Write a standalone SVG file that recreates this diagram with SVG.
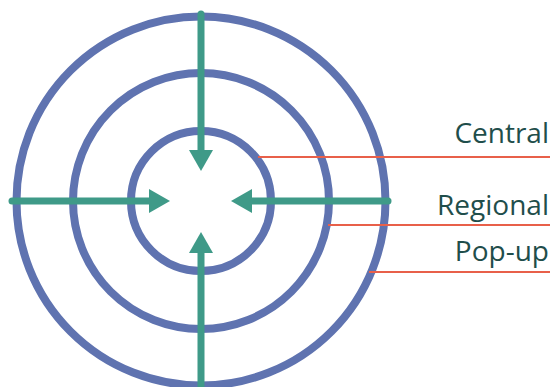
<svg xmlns="http://www.w3.org/2000/svg" width="550" height="387" viewBox="0 0 550 387">
<defs>
<style>
.ring{fill:none;stroke:#5F73B0;stroke-width:8}
.arr{stroke:#3F9A88;stroke-width:7;stroke-linecap:round;fill:none}
.head{fill:#3F9A88}
.lead{stroke:#E8604A;stroke-width:2}
.lbl{font-family:"Open Sans","Liberation Sans",sans-serif;font-size:28px;fill:#1F4E4B;text-anchor:end}
</style>
</defs>
<g id="rings">
<g id="popup-ring"><circle class="ring" cx="201" cy="201" r="184.5"/></g>
<g id="regional-ring"><circle class="ring" cx="201" cy="201" r="128"/></g>
<g id="central-ring"><circle class="ring" cx="201" cy="201" r="70"/></g>
</g>
<g id="connectors">
<line class="arr" x1="201" y1="14" x2="201" y2="152"/>
<polygon class="head" points="189,150 213,150 201,171"/>
<line class="arr" x1="12" y1="201" x2="152" y2="201"/>
<polygon class="head" points="149,189 149,213 170,201"/>
<line class="arr" x1="388" y1="201" x2="250" y2="201"/>
<polygon class="head" points="252,189 252,213 231,201"/>
<line class="arr" x1="201" y1="390" x2="201" y2="250"/>
<polygon class="head" points="189,253 213,253 201,232"/>
</g>
<g id="central">
<line class="lead" x1="258" y1="157" x2="550" y2="157"/>
<text class="lbl" x="549" y="143">Central</text>
</g>
<g id="regional">
<line class="lead" x1="328" y1="225" x2="550" y2="225"/>
<text class="lbl" x="549" y="215">Regional</text>
</g>
<g id="popup">
<line class="lead" x1="369" y1="272" x2="550" y2="272"/>
<text class="lbl" x="549" y="261">Pop-up</text>
</g>
</svg>
